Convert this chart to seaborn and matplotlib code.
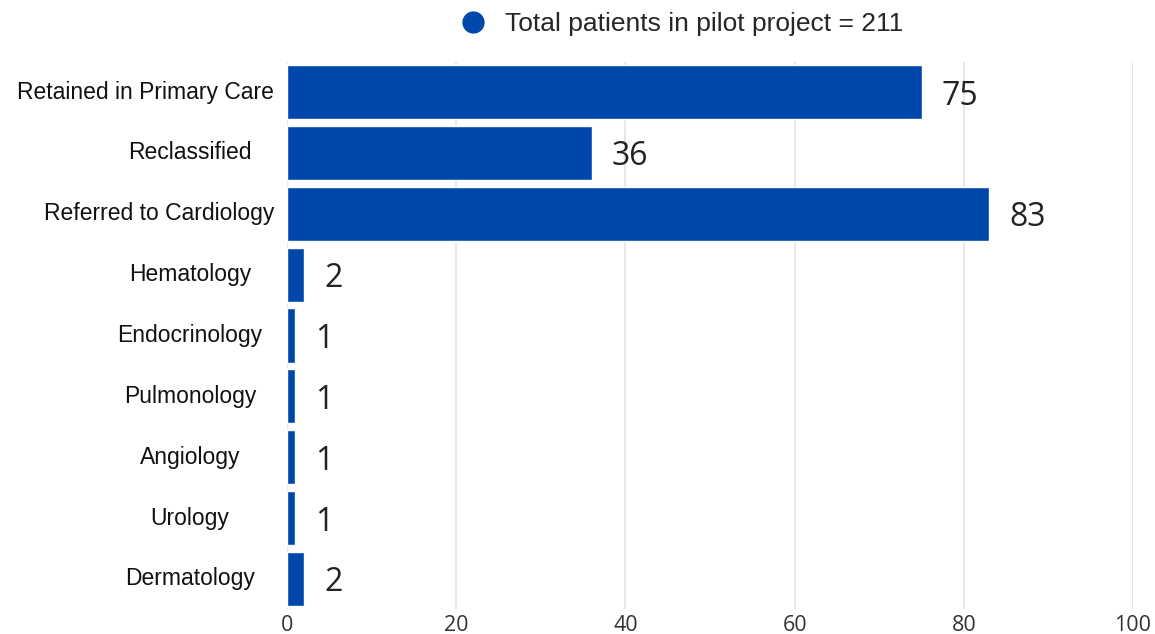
import matplotlib
matplotlib.use("Agg")
import matplotlib.pyplot as plt
from matplotlib.lines import Line2D
import matplotlib.transforms as mtransforms
import seaborn as sns
import pandas as pd

categories = ["Retained in Primary Care", "Reclassified", "Referred to Cardiology",
              "Hematology", "Endocrinology", "Pulmonology", "Angiology",
              "Urology", "Dermatology"]
counts = [75, 36, 83, 2, 1, 1, 1, 1, 2]
x_ticks = [0, 20, 40, 60, 80, 100]
legend_label = "Total patients in pilot project = 211"

BLUE = "#0047AB"

sns.set_theme(style="white")
df = pd.DataFrame({"category": categories, "count": counts})

fig = plt.figure(figsize=(11.55, 6.34), dpi=100)
ax = fig.add_axes([287/1155, 1 - 609.4/634, (1133 - 287)/1155, (609.4 - 61.6)/634])

sns.barplot(data=df, x="count", y="category", orient="h", color=BLUE,
            saturation=1, width=0.89, ax=ax, zorder=3)

ax.set_xlim(0, 100)
ax.set_ylim(8.5, -0.5)
ax.set_xticks(x_ticks)
ax.set_xticklabels([str(t) for t in x_ticks], fontfamily="Open Sans",
                   fontsize=15.5, color="#333333")
ax.tick_params(axis="x", length=0, pad=4)
ax.grid(axis="x", color="#e3e3e3", linewidth=1.2, zorder=0)
ax.grid(axis="y", visible=False)
for s in ax.spines.values():
    s.set_visible(False)
ax.set_xlabel("")
ax.set_ylabel("")

# y labels: centered, but kept clear of the bars
ax.set_yticks(range(len(categories)))
ax.set_yticklabels([])
ax.tick_params(axis="y", length=0)
fig.canvas.draw()
renderer = fig.canvas.get_renderer()
trans = mtransforms.blended_transform_factory(fig.transFigure, ax.transData)
for i, cat in enumerate(categories):
    t = ax.text(0, i, cat, fontfamily="Liberation Sans", fontsize=16.5,
                color="#111111", ha="center", va="center", transform=trans)
    w = t.get_window_extent(renderer).width
    cx = min(190, 274 - w / 2)
    t.set_x(cx / 1155)

# value labels
for p, v in zip(ax.patches, counts):
    ax.annotate(str(v), (p.get_width(), p.get_y() + p.get_height() / 2),
                xytext=(20, -4), textcoords="offset pixels",
                ha="left", va="center", fontfamily="Open Sans", fontsize=23,
                color="#222222")

handle = Line2D([], [], marker="o", linestyle="", markersize=15,
                markerfacecolor=BLUE, markeredgecolor=BLUE)
fig.legend([handle], [legend_label], loc="center left",
           bbox_to_anchor=(460/1155, 1 - 24/634),
           frameon=False, prop={"family": "Liberation Sans", "size": 19},
           handlelength=1.0, handletextpad=0.7, borderpad=0, borderaxespad=0)

fig.savefig("out.png", dpi=100)
